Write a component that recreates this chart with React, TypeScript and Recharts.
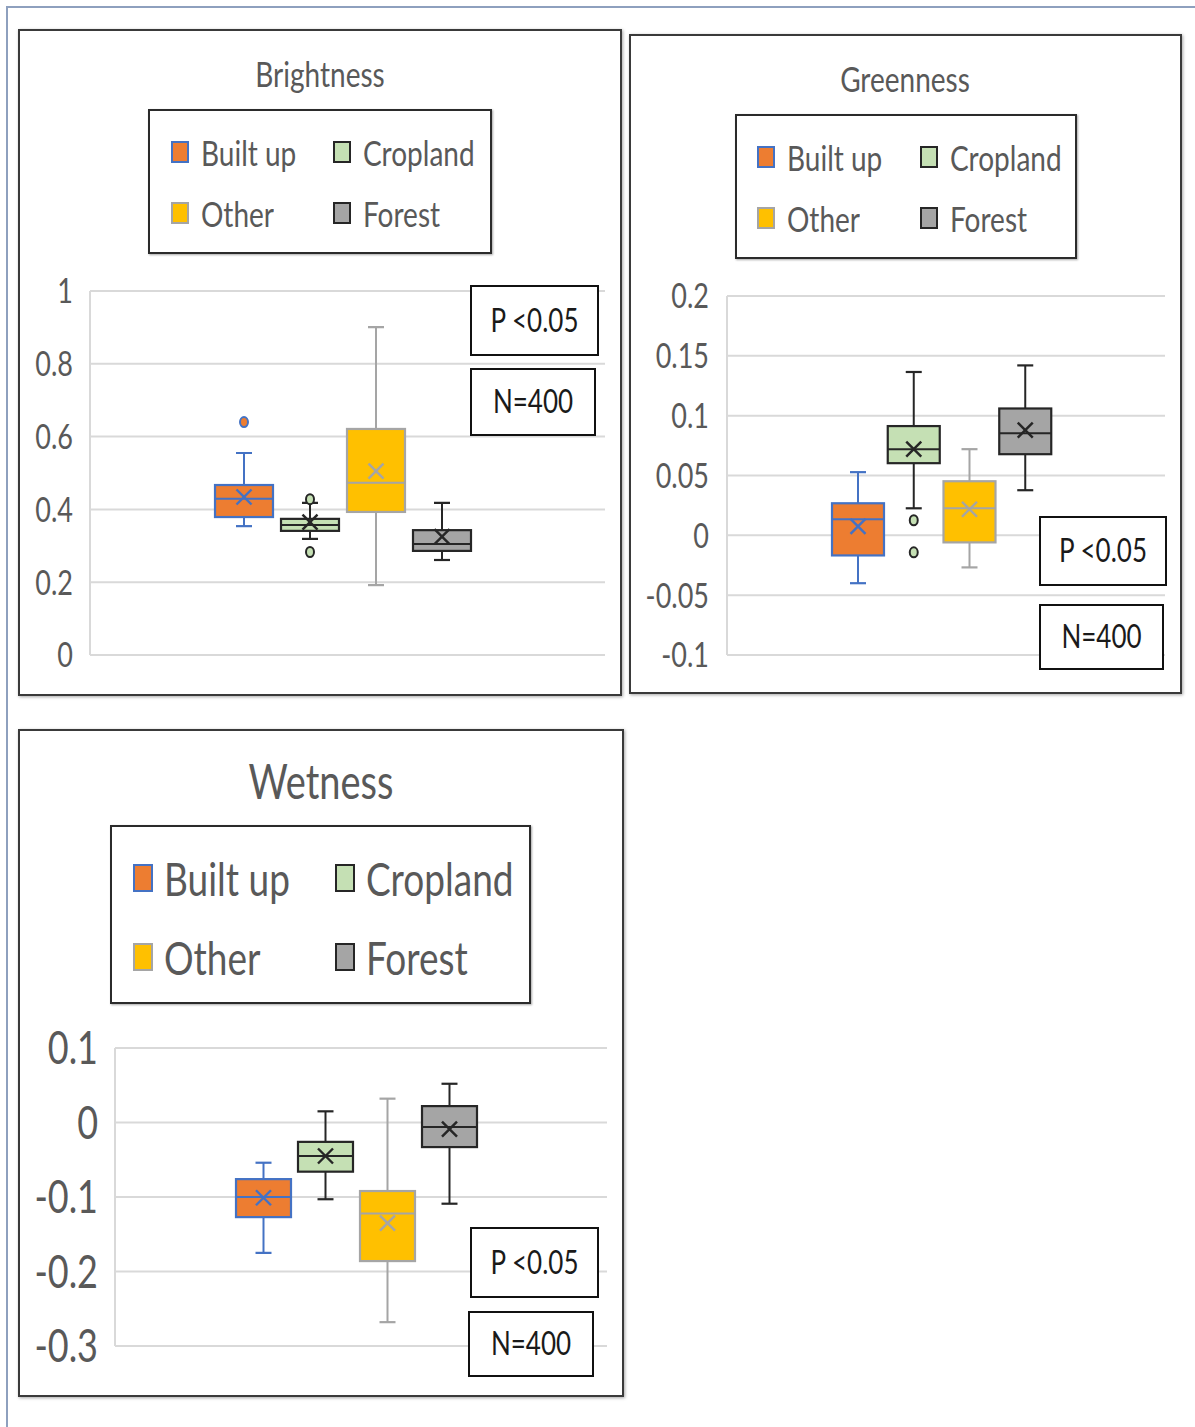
import React from 'react';
import { ComposedChart, Bar, XAxis, YAxis, CartesianGrid } from 'recharts';

// Land-cover classes, in plotting and legend order
const CLASSES = ['Built up', 'Cropland', 'Other', 'Forest'];

// Brightness five-number summaries per class
const brightnessMin = [0.354, 0.319, 0.192, 0.261];
const brightnessQ1 = [0.379, 0.341, 0.393, 0.286];
const brightnessMedian = [0.429, 0.357, 0.473, 0.305];
const brightnessQ3 = [0.467, 0.374, 0.621, 0.343];
const brightnessMax = [0.555, 0.418, 0.901, 0.418];
const brightnessMean = [0.434, 0.365, 0.505, 0.325];
const brightnessOutliers = [[0.64], [0.428, 0.283], [], []];
const brightnessTicks = [0, 0.2, 0.4, 0.6, 0.8, 1];

// Greenness
const greennessMin = [-0.04, 0.0226, -0.0268, 0.0377];
const greennessQ1 = [-0.0168, 0.0603, -0.0059, 0.0678];
const greennessMedian = [0.0134, 0.072, 0.0226, 0.0854];
const greennessQ3 = [0.0268, 0.0913, 0.0452, 0.106];
const greennessMax = [0.0528, 0.1365, 0.072, 0.142];
const greennessMean = [0.0075, 0.072, 0.0218, 0.088];
const greennessOutliers = [[], [0.0126, -0.0142], [], []];
const greennessTicks = [-0.1, -0.05, 0, 0.05, 0.1, 0.15, 0.2];

// Wetness
const wetnessMin = [-0.175, -0.103, -0.268, -0.109];
const wetnessQ1 = [-0.127, -0.066, -0.186, -0.033];
const wetnessMedian = [-0.1, -0.045, -0.122, -0.006];
const wetnessQ3 = [-0.076, -0.026, -0.092, 0.022];
const wetnessMax = [-0.054, 0.015, 0.032, 0.052];
const wetnessMean = [-0.101, -0.045, -0.135, -0.009];
const wetnessOutliers = [[], [], [], []];
const wetnessTicks = [-0.3, -0.2, -0.1, 0, 0.1];

const PVALUE = 'P <0.05';
const SAMPLE = 'N=400';

const FONT = 'Lato, Carlito, "Open Sans", sans-serif';
const STRETCH = 1.27;
const GRID = '#D9D9D9';
const TEXT = '#595959';

const CLASS_STYLE: Record<string, { fill: string; stroke: string }> = {
  'Built up': { fill: '#ED7D31', stroke: '#4472C4' },
  Cropland: { fill: '#C5E0B4', stroke: '#262626' },
  Other: { fill: '#FFC000', stroke: '#A5A5A5' },
  Forest: { fill: '#A5A5A5', stroke: '#262626' },
};

type Row = {
  name: string;
  min: number;
  q1: number;
  median: number;
  q3: number;
  max: number;
  mean: number;
  outliers: number[];
};

function buildRows(
  min: number[], q1: number[], median: number[], q3: number[], max: number[], mean: number[], outliers: number[][],
): Row[] {
  return CLASSES.map((name, i) => ({
    name, min: min[i], q1: q1[i], median: median[i], q3: q3[i], max: max[i], mean: mean[i], outliers: outliers[i],
  }));
}

// Box-and-whisker glyph drawn on top of a [min, max] range bar.
function BoxShape(props: any) {
  const { x, y, width, height, payload } = props;
  const p: Row = payload;
  if (!p) return null;
  const top = Math.min(y, y + height);
  const bottom = Math.max(y, y + height);
  const span = p.max - p.min;
  const py = (v: number) => bottom - ((v - p.min) / span) * (bottom - top);
  const st = CLASS_STYLE[p.name];
  const cx = x + width / 2;
  const cap = 8;
  const m = 7.5;
  const yq1 = py(p.q1);
  const yq3 = py(p.q3);
  const ymed = py(p.median);
  const ymean = py(p.mean);
  return (
    <g>
      <line x1={cx} x2={cx} y1={top} y2={yq3} stroke={st.stroke} strokeWidth={2} />
      <line x1={cx} x2={cx} y1={yq1} y2={bottom} stroke={st.stroke} strokeWidth={2} />
      <line x1={cx - cap} x2={cx + cap} y1={top} y2={top} stroke={st.stroke} strokeWidth={2.2} />
      <line x1={cx - cap} x2={cx + cap} y1={bottom} y2={bottom} stroke={st.stroke} strokeWidth={2.2} />
      <rect x={x} y={yq3} width={width} height={yq1 - yq3} fill={st.fill} stroke={st.stroke} strokeWidth={2.2} />
      <line x1={x} x2={x + width} y1={ymed} y2={ymed} stroke={st.stroke} strokeWidth={2} />
      <line x1={cx - m} x2={cx + m} y1={ymean - m} y2={ymean + m} stroke={st.stroke} strokeWidth={2.4} />
      <line x1={cx - m} x2={cx + m} y1={ymean + m} y2={ymean - m} stroke={st.stroke} strokeWidth={2.4} />
      {p.outliers.map((o, k) => (
        <ellipse key={k} cx={cx} cy={py(o)} rx={4} ry={5} fill={st.fill} stroke={st.stroke} strokeWidth={2} />
      ))}
    </g>
  );
}

function makeTick(fontSize: number) {
  return (props: any) => {
    const { x, y, payload } = props;
    return (
      <g transform={`translate(${x},${y}) scale(1,${STRETCH})`}>
        <text x={0} y={0} dy="0.36em" textAnchor="end" fill={TEXT} fontSize={fontSize} fontFamily={FONT}>
          {String(payload.value)}
        </text>
      </g>
    );
  };
}

type ChartCfg = {
  rows: Row[];
  ticks: number[];
  left: number;
  top: number;
  width: number;
  height: number;
  axisW: number;
  mt: number;
  mr: number;
  mb: number;
  padL: number;
  padR: number;
  barSize: number;
  tickFont: number;
  tickMargin: number;
};

function BoxChart({ cfg }: { cfg: ChartCfg }) {
  const domain = [cfg.ticks[0], cfg.ticks[cfg.ticks.length - 1]];
  return (
    <div style={{ position: 'absolute', left: cfg.left, top: cfg.top }}>
      <ComposedChart
        width={cfg.width}
        height={cfg.height}
        data={cfg.rows}
        margin={{ top: cfg.mt, right: cfg.mr, bottom: cfg.mb, left: 0 }}
      >
        <CartesianGrid vertical={false} stroke={GRID} strokeWidth={2} />
        <XAxis dataKey="name" type="category" hide padding={{ left: cfg.padL, right: cfg.padR }} />
        <YAxis
          type="number"
          domain={domain}
          ticks={cfg.ticks}
          allowDataOverflow
          interval={0}
          width={cfg.axisW}
          tickSize={0}
          tickMargin={cfg.tickMargin}
          tickLine={false}
          axisLine={{ stroke: GRID, strokeWidth: 2 }}
          tick={makeTick(cfg.tickFont)}
        />
        <Bar
          dataKey={(d: Row) => [d.min, d.max]}
          barSize={cfg.barSize}
          shape={(p: any) => <BoxShape {...p} />}
          isAnimationActive={false}
        />
      </ComposedChart>
    </div>
  );
}

function Stretched({ text, cx, cy, size, color, anchor = 'center' }: any) {
  const w = 600;
  const h = size * 1.6;
  const left = anchor === 'center' ? cx - w / 2 : cx;
  return (
    <div
      style={{
        position: 'absolute',
        left,
        top: cy - h / 2,
        width: w,
        height: h,
        lineHeight: `${h}px`,
        textAlign: anchor === 'center' ? 'center' : 'left',
        fontFamily: FONT,
        fontSize: size,
        color,
        whiteSpace: 'nowrap',
        transform: `scaleY(${STRETCH})`,
        transformOrigin: 'center',
      }}
    >
      {text}
    </div>
  );
}

type LegendCfg = {
  left: number;
  top: number;
  width: number;
  height: number;
  colX: number[];
  rowY: number[];
  sw: number;
  sh: number;
  font: number;
  gap: number;
};

function LegendBox({ cfg }: { cfg: LegendCfg }) {
  return (
    <>
      <div
        style={{
          position: 'absolute',
          left: cfg.left,
          top: cfg.top,
          width: cfg.width,
          height: cfg.height,
          boxSizing: 'border-box',
          border: '2px solid #2b2b2b',
          boxShadow: '1px 1px 2px rgba(0,0,0,0.35)',
          background: '#fff',
        }}
      />
      {CLASSES.map((name, i) => {
        const col = i % 2;
        const row = Math.floor(i / 2);
        const sx = cfg.left + cfg.colX[col];
        const sy = cfg.top + cfg.rowY[row];
        const st = CLASS_STYLE[name];
        return (
          <React.Fragment key={name}>
            <div
              style={{
                position: 'absolute',
                left: sx,
                top: sy - cfg.sh / 2,
                width: cfg.sw,
                height: cfg.sh,
                boxSizing: 'border-box',
                background: st.fill,
                border: `2px solid ${st.stroke}`,
              }}
            />
            <Stretched text={name} cx={sx + cfg.sw + cfg.gap} cy={sy} size={cfg.font} color={TEXT} anchor="left" />
          </React.Fragment>
        );
      })}
    </>
  );
}

function StatBox({ left, top, width, height, text, font }: any) {
  return (
    <>
      <div
        style={{
          position: 'absolute',
          left,
          top,
          width,
          height,
          boxSizing: 'border-box',
          border: '2px solid #111',
          background: '#fff',
        }}
      />
      <Stretched text={text} cx={left + width / 2} cy={top + height / 2} size={font} color="#1a1a1a" />
    </>
  );
}

function Panel({ left, top, width, height }: any) {
  return (
    <div
      style={{
        position: 'absolute',
        left,
        top,
        width,
        height,
        boxSizing: 'border-box',
        border: '2px solid #3a3a3a',
        boxShadow: '1px 1px 3px rgba(0,0,0,0.35)',
        background: '#fff',
      }}
    />
  );
}

const brightnessRows = buildRows(brightnessMin, brightnessQ1, brightnessMedian, brightnessQ3, brightnessMax, brightnessMean, brightnessOutliers);
const greennessRows = buildRows(greennessMin, greennessQ1, greennessMedian, greennessQ3, greennessMax, greennessMean, greennessOutliers);
const wetnessRows = buildRows(wetnessMin, wetnessQ1, wetnessMedian, wetnessQ3, wetnessMax, wetnessMean, wetnessOutliers);

export default function App() {
  return (
    <div style={{ position: 'absolute', left: 0, top: 0, width: 1195, height: 1427, background: '#fff', overflow: 'hidden' }}>
      {/* outer frame */}
      <div style={{ position: 'absolute', left: 6, top: 6, width: 1189, height: 2, background: '#8EA0BE' }} />
      <div style={{ position: 'absolute', left: 6, top: 6, width: 2, height: 1421, background: '#8EA0BE' }} />

      {/* Brightness */}
      <Panel left={18} top={29} width={604} height={667} />
      <Stretched text="Brightness" cx={320} cy={73} size={28} color={TEXT} />
      <LegendBox cfg={{ left: 148, top: 109, width: 344, height: 145, colX: [23, 185], rowY: [43, 104], sw: 18, sh: 22, font: 28, gap: 12 }} />
      <BoxChart
        cfg={{
          rows: brightnessRows, ticks: brightnessTicks, left: 20, top: 255, width: 600, height: 440, axisW: 70,
          mt: 36, mr: 15, mb: 40, padL: 121, padR: 130, barSize: 58, tickFont: 27, tickMargin: 17,
        }}
      />
      <StatBox left={470} top={285} width={129} height={71} text={PVALUE} font={26} />
      <StatBox left={470} top={368} width={126} height={68} text={SAMPLE} font={26} />

      {/* Greenness */}
      <Panel left={629} top={34} width={553} height={660} />
      <Stretched text="Greenness" cx={905} cy={78} size={28} color={TEXT} />
      <LegendBox cfg={{ left: 735, top: 114, width: 342, height: 145, colX: [22, 185], rowY: [43, 104], sw: 18, sh: 22, font: 28, gap: 12 }} />
      <BoxChart
        cfg={{
          rows: greennessRows, ticks: greennessTicks, left: 630, top: 260, width: 550, height: 435, axisW: 97,
          mt: 36, mr: 15, mb: 40, padL: 103, padR: 112, barSize: 52, tickFont: 27, tickMargin: 18,
        }}
      />
      <StatBox left={1039} top={516} width={128} height={70} text={PVALUE} font={26} />
      <StatBox left={1039} top={604} width={125} height={66} text={SAMPLE} font={26} />

      {/* Wetness */}
      <Panel left={18} top={729} width={606} height={668} />
      <Stretched text="Wetness" cx={321} cy={780} size={38} color={TEXT} />
      <LegendBox cfg={{ left: 110, top: 825, width: 421, height: 179, colX: [23, 225], rowY: [53, 132], sw: 20, sh: 28, font: 37, gap: 11 }} />
      <BoxChart
        cfg={{
          rows: wetnessRows, ticks: wetnessTicks, left: 20, top: 1010, width: 600, height: 376, axisW: 95,
          mt: 38, mr: 13, mb: 40, padL: 117, padR: 127, barSize: 55, tickFont: 36, tickMargin: 17,
        }}
      />
      <StatBox left={470} top={1227} width={129} height={71} text={PVALUE} font={26} />
      <StatBox left={468} top={1311} width={126} height={66} text={SAMPLE} font={26} />
    </div>
  );
}
